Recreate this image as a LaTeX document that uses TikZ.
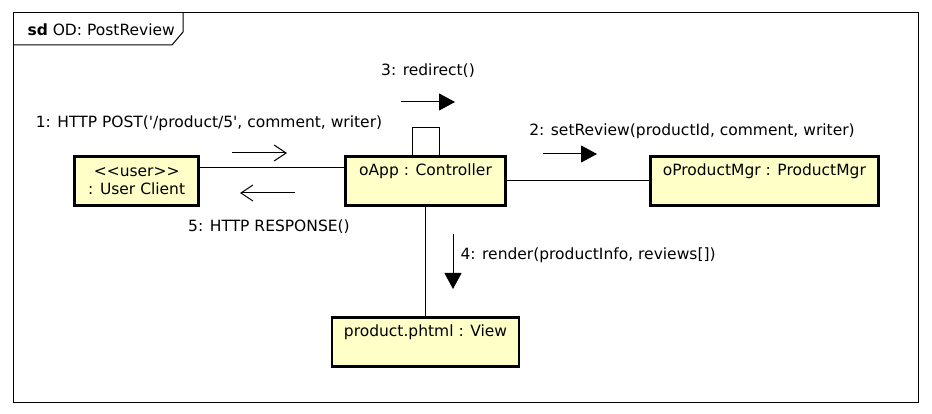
\documentclass[tikz,border=0pt]{standalone}
\usepackage{fontspec}
\setmainfont{DejaVu Sans}
\usetikzlibrary{arrows.meta}
\usetikzlibrary{positioning}
\definecolor{objfill}{RGB}{255,255,200}

\begin{document}
\begin{tikzpicture}[x=1pt,y=-1pt,every node/.style={font=\fontsize{15.5}{18}\selectfont}]

	\tikzset{ObjStyle/.style = {draw,
			line width = 2.8pt,
			fill       = objfill,
			inner xsep = 6pt}}
	\tikzset{TopText/.style = {text height=15pt, text depth=26pt, inner ysep=4pt}}
	\tikzset{LinkStyle/.style = {line width=1pt}}
	\tikzset{CallStyle/.style = {line width=1pt, -{Triangle[length=16pt,width=17pt]}}}
	\tikzset{ReplyStyle/.style = {line width=1pt, -{Straight Barb[length=12pt,width=16pt]}}}

	\useasboundingbox[fill=white] (0,0) rectangle (932,414);

	% frame
	\draw[line width=1pt] (13,13) rectangle (918,402);
	\draw[line width=1pt] (13,45) -- (172,45) -- (183,32) -- (183,13);
	\node[anchor=west](frameLbl) at (24,30) {\textbf{sd} OD: PostReview};

	% objects
	\node[ObjStyle,TopText,minimum width=160pt,anchor=north](oApp) at (425.5,155) {oApp : Controller};
	\node[ObjStyle,minimum width=124pt,minimum height=49pt,align=center,left=144pt of oApp](user) {<{}<user>{}>\\: User Client};
	\node[ObjStyle,TopText,minimum width=228pt,right=142pt of oApp](oMgr) {oProductMgr : ProductMgr};
	\node[ObjStyle,TopText,minimum width=187pt,below=109pt of oApp](view) {product.phtml : View};

	% links
	\coordinate (linkY) at (0,168);
	\draw[LinkStyle](user.east |- linkY) -- (oApp.west |- linkY);
	\draw[LinkStyle](oApp.east) -- (oApp.east -| oMgr.west);
	\draw[LinkStyle](oApp.south) -- (oApp.south |- view.north);
	\draw[LinkStyle]([xshift=-13.5pt]oApp.north) -- ++(0,-27) -- ++(27,0) -- ++(0,27);

	% messages
	\coordinate (m1a) at (232,153);
	\coordinate (m1b) at (287,153);
	\coordinate (m2a) at (543,154);
	\coordinate (m2b) at (597,154);
	\coordinate (m3a) at (401,102);
	\coordinate (m3b) at (455,102);
	\coordinate (m4a) at (453,234);
	\coordinate (m4b) at (453,289);
	\coordinate (m5a) at (295,193);
	\coordinate (m5b) at (240,193);

	\draw[ReplyStyle](m1a) -- (m1b);
	\draw[CallStyle](m2a) -- (m2b);
	\draw[CallStyle](m3a) -- (m3b);
	\draw[CallStyle](m4a) -- (m4b);
	\draw[ReplyStyle](m5a) -- (m5b);

	\node(lbl1) at (209,123) {1: HTTP POST(\textquotesingle/product/5\textquotesingle, comment, writer)};
	\node(lbl2) at (692,131) {2: setReview(productId, comment, writer)};
	\node(lbl3) at (428,71) {3: redirect()};
	\node[anchor=west](lbl4) at (457,255) {4: render(productInfo, reviews[])};
	\node(lbl5) at (269,227) {5: HTTP RESPONSE()};

\end{tikzpicture}
\end{document}
